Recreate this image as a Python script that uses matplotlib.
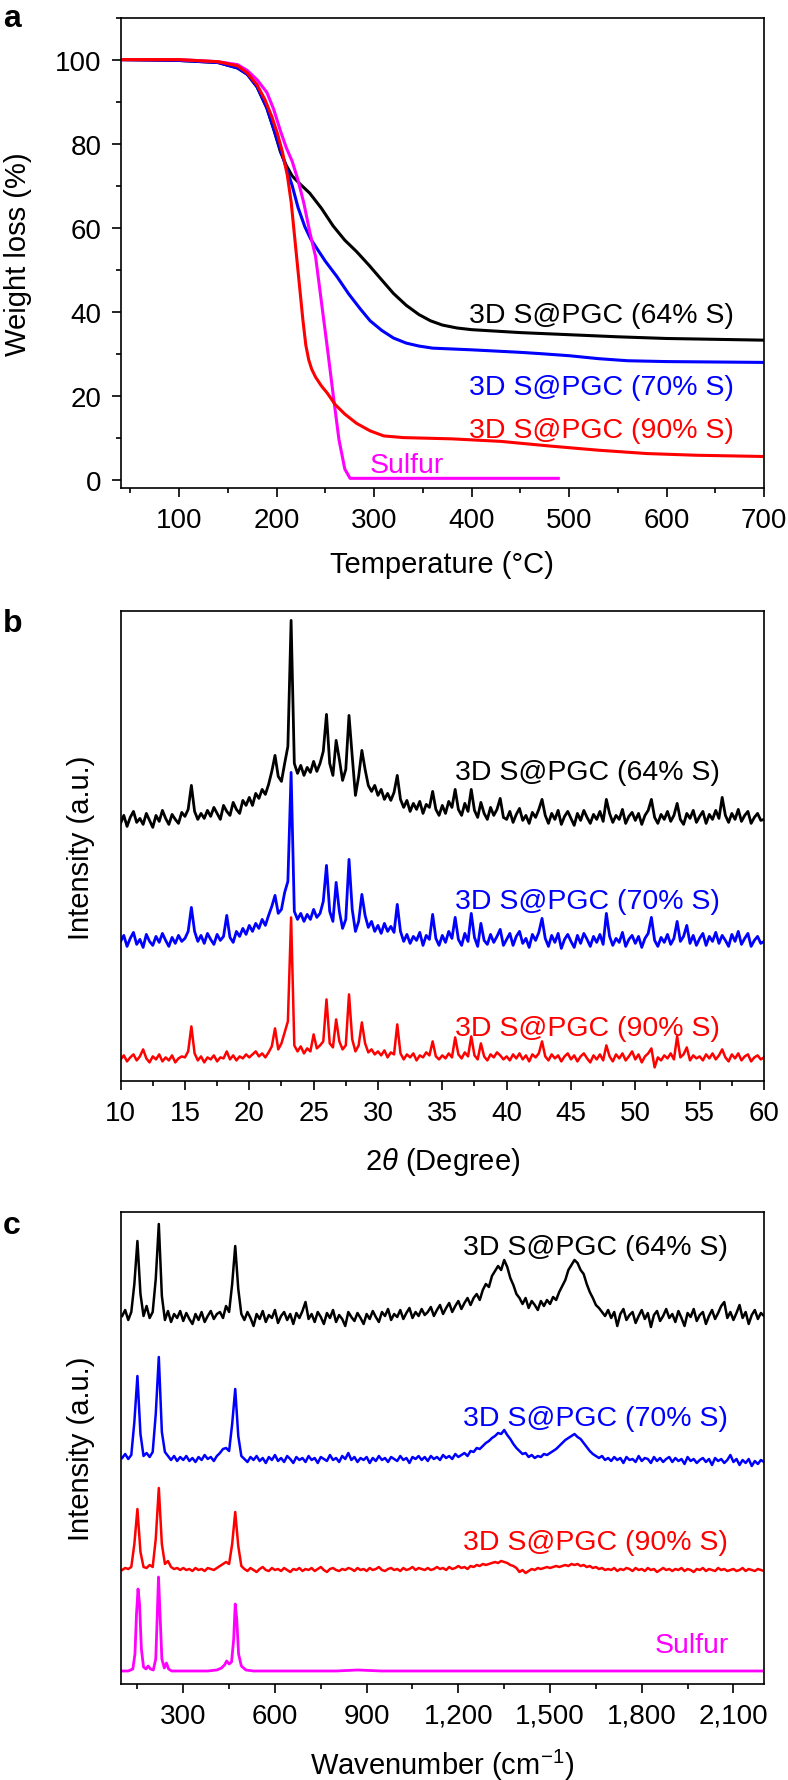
import matplotlib
matplotlib.use('Agg')
import matplotlib.pyplot as plt
from matplotlib.ticker import MultipleLocator, FuncFormatter
import numpy as np

plt.rcParams['font.family'] = ['Liberation Sans', 'DejaVu Sans']
plt.rcParams['mathtext.fontset'] = 'custom'
plt.rcParams['mathtext.rm'] = 'Liberation Sans'
plt.rcParams['mathtext.it'] = 'Liberation Sans:italic'

BLACK, BLUE, RED, MAGENTA = '#000000', '#0000ff', '#ff0000', '#ff00ff'
labels = ['3D S@PGC (64% S)', '3D S@PGC (70% S)', '3D S@PGC (90% S)', 'Sulfur']

# ---- (a) TGA: temperature (C) vs weight (%) ----
tga_t_64 = [40, 100, 140, 160, 170, 180, 190, 197, 204, 210, 216, 224, 234, 246, 258, 270, 282,
            295, 308, 320, 333, 346, 358, 370, 385, 400, 450, 500, 550, 600, 650, 700]
tga_w_64 = [100, 99.8, 99.3, 98, 96.5, 93.5, 88.5, 83.5, 78, 74.8, 72.3, 70.4, 68.2, 64.6, 60.4, 57.0, 54.3,
            51.0, 47.5, 44.3, 41.5, 39.3, 37.8, 36.8, 36.1, 35.7, 35.0, 34.5, 34.0, 33.6, 33.4, 33.2]
tga_t_70 = [40, 100, 140, 160, 170, 180, 190, 197, 204, 210, 216, 222, 229, 235, 242, 250, 262, 274,
            286, 296, 308, 320, 333, 346, 360, 380, 400, 450, 470, 500, 530, 560, 600, 650, 700]
tga_w_70 = [100, 99.8, 99.3, 98, 96.5, 93.5, 88.5, 83.5, 78.5, 74.2, 70, 64.8, 60.2, 57.3, 54.8, 52.0, 48.3, 44.2,
            40.6, 37.8, 35.5, 33.7, 32.5, 31.8, 31.3, 31.1, 30.9, 30.3, 30.0, 29.5, 28.8, 28.3, 28.1, 28.0, 27.9]
tga_t_90 = [40, 100, 140, 160, 170, 180, 188, 195, 201, 206, 211, 215, 218, 221, 224, 227, 230, 233,
            236, 240, 246, 252, 260, 270, 282, 296, 310, 330, 380, 430, 480, 530, 580, 630, 700]
tga_w_90 = [100, 100, 99.5, 98.5, 96.8, 94, 90.5, 86.5, 82.3, 78, 72.5, 66, 59, 52, 45, 38, 32, 28.5,
            26.3, 24.4, 22.3, 20.6, 17.9, 15.6, 13.4, 11.6, 10.4, 10.0, 9.7, 9.1, 8.0, 7.0, 6.2, 5.8, 5.5]
tga_t_s = [40, 100, 140, 160, 170, 180, 190, 197, 204, 210, 216, 222, 228, 234, 240, 246, 252, 258,
           264, 270, 275.4, 280, 300, 400, 489]
tga_w_s = [100, 100, 99.5, 98.8, 97.4, 95.2, 92.2, 88.2, 83.0, 79.0, 75.8, 71.3, 65.8, 59.0, 53.1, 42.3, 31.5, 20.3,
           9.5, 2.5, 0.3, 0.3, 0.3, 0.3, 0.3]

# ---- (b) XRD: 2theta grid, intensities (a.u., offset) ----
xrd_2theta = np.arange(10, 60.001, 0.25)
xrd_64 = [258, 266, 255, 264, 270, 259, 263, 257, 268, 261, 254, 266, 260, 271, 263, 257, 267, 262, 258, 269,
          265, 272, 296, 270, 262, 268, 263, 271, 265, 274, 268, 262, 276, 270, 266, 279, 272, 268, 281, 276,
          284, 276, 288, 283, 292, 287, 297, 310, 326, 305, 300, 318, 335, 461, 318, 308, 316, 306, 314, 309,
          320, 310, 318, 330, 367, 318, 306, 341, 322, 301, 312, 366, 325, 286, 305, 331, 312, 296, 290, 296,
          286, 292, 282, 288, 281, 289, 306, 282, 274, 281, 270, 278, 272, 280, 268, 277, 274, 290, 272, 266,
          276, 268, 280, 274, 292, 272, 266, 278, 270, 292, 271, 264, 279, 268, 262, 274, 266, 272, 283, 264,
          262, 270, 259, 267, 273, 261, 266, 258, 269, 264, 272, 282, 266, 258, 268, 262, 271, 257, 265, 270,
          263, 256, 268, 261, 271, 264, 258, 267, 262, 270, 260, 282, 268, 259, 266, 262, 272, 258, 265, 269,
          261, 268, 257, 266, 271, 282, 264, 258, 267, 262, 270, 260, 266, 278, 262, 257, 268, 263, 271, 259,
          265, 270, 258, 267, 262, 271, 263, 284, 266, 259, 268, 262, 272, 260, 266, 270, 258, 264, 268, 261, 262]
xrd_70 = [140, 146, 135, 143, 149, 137, 142, 134, 147, 140, 136, 145, 139, 148, 141, 135, 144, 138, 146, 140,
          143, 150, 174, 150, 140, 146, 138, 148, 142, 137, 147, 141, 145, 166, 144, 139, 150, 145, 153, 147,
          156, 150, 158, 153, 162, 156, 166, 175, 186, 168, 172, 189, 200, 309, 170, 162, 168, 160, 167, 162,
          172, 164, 168, 180, 216, 170, 160, 199, 170, 153, 162, 222, 172, 150, 160, 187, 166, 154, 160, 150,
          156, 148, 158, 150, 155, 149, 177, 150, 140, 147, 138, 145, 141, 149, 136, 146, 142, 167, 143, 136,
          146, 139, 150, 143, 164, 142, 136, 148, 140, 168, 144, 135, 158, 141, 137, 147, 139, 145, 152, 136,
          142, 148, 136, 145, 150, 138, 143, 134, 147, 141, 149, 163, 143, 135, 146, 139, 148, 133, 142, 147,
          140, 134, 146, 138, 148, 142, 135, 145, 139, 147, 137, 168, 145, 136, 143, 139, 149, 135, 142, 146,
          138, 145, 134, 143, 148, 164, 141, 135, 144, 139, 147, 137, 143, 160, 140, 145, 156, 138, 146, 136,
          143, 148, 136, 145, 140, 149, 138, 146, 141, 135, 147, 140, 150, 137, 143, 148, 135, 141, 145, 138, 140]
xrd_90 = [22, 26, 20, 24, 27, 21, 25, 32, 23, 19, 25, 22, 27, 20, 24, 21, 26, 19, 23, 25,
          24, 30, 55, 28, 21, 25, 19, 24, 22, 26, 20, 24, 23, 30, 22, 26, 21, 25, 23, 27,
          24, 27, 30, 25, 28, 24, 29, 35, 53, 32, 38, 49, 60, 164, 36, 30, 35, 28, 33, 30,
          47, 33, 36, 40, 82, 38, 34, 62, 40, 32, 36, 87, 42, 30, 36, 59, 38, 29, 32, 27,
          30, 26, 31, 24, 29, 27, 57, 28, 22, 27, 24, 28, 21, 26, 24, 29, 26, 40, 25, 22,
          26, 23, 28, 24, 44, 27, 23, 29, 25, 45, 26, 22, 38, 25, 21, 27, 24, 29, 26, 22,
          25, 21, 27, 23, 28, 22, 26, 20, 27, 24, 28, 40, 25, 21, 27, 23, 26, 20, 25, 28,
          22, 26, 20, 25, 28, 23, 19, 26, 22, 27, 21, 36, 25, 20, 27, 23, 28, 21, 25, 30,
          22, 27, 19, 25, 28, 33, 14, 24, 21, 26, 23, 28, 22, 45, 24, 27, 34, 21, 26, 23,
          25, 21, 27, 23, 28, 22, 26, 32, 24, 20, 27, 23, 28, 21, 25, 27, 20, 24, 26, 22, 24]

# ---- (c) Raman: wavenumber grid, intensities (a.u., offset) ----
raman_shift = np.arange(100, 2201, 10)
raman_64 = [368, 374, 364, 372, 400, 443, 390, 368, 378, 366, 372, 405, 460, 388, 364, 373, 362, 370, 366, 373,
            363, 371, 365, 360, 370, 364, 372, 362, 368, 373, 365, 370, 372, 366, 378, 372, 400, 438, 395, 370,
            364, 372, 366, 358, 370, 365, 373, 362, 369, 366, 374, 361, 368, 372, 364, 370, 360, 371, 366, 373,
            382, 365, 370, 362, 372, 367, 360, 371, 366, 374, 362, 369, 365, 358, 372, 367, 363, 371, 366, 360,
            370, 365, 373, 367, 362, 372, 368, 375, 364, 370, 367, 374, 365, 371, 376, 366, 372, 368, 375, 369,
            372, 377, 368, 374, 379, 370, 376, 381, 372, 378, 383, 375, 381, 386, 379, 386, 390, 384, 394, 400,
            397, 408, 413, 418, 414, 424, 417, 406, 399, 390, 386, 380, 386, 376, 383, 379, 374, 383, 378, 384,
            380, 387, 384, 392, 398, 404, 414, 419, 424, 421, 414, 410, 400, 392, 386, 379, 376, 372, 368, 374,
            366, 372, 358, 370, 375, 364, 369, 372, 361, 368, 374, 365, 371, 357, 369, 373, 363, 368, 375, 366,
            370, 362, 373, 366, 358, 371, 367, 375, 363, 369, 372, 360, 368, 374, 365, 371, 378, 382, 366, 372,
            364, 371, 379, 366, 372, 360, 369, 374, 365, 371, 368]
raman_70 = [226, 230, 225, 229, 262, 308, 250, 228, 231, 227, 232, 270, 327, 252, 232, 228, 224, 228, 223, 227,
            224, 228, 223, 226, 222, 227, 224, 229, 225, 227, 223, 228, 231, 235, 236, 233, 260, 295, 248, 228,
            225, 222, 227, 224, 228, 223, 226, 221, 227, 224, 229, 223, 226, 222, 228, 225, 221, 227, 224, 226,
            222, 228, 224, 226, 221, 227, 225, 223, 229, 224, 226, 222, 228, 225, 231, 224, 227, 222, 226, 224,
            227, 221, 226, 223, 228, 224, 226, 222, 227, 225, 223, 228, 224, 226, 221, 227, 225, 228, 224, 227,
            223, 228, 225, 227, 224, 229, 226, 228, 225, 230, 227, 229, 231, 228, 233, 232, 236, 235, 238, 241,
            243, 246, 248, 251, 250, 254, 249, 245, 240, 236, 233, 230, 231, 227, 229, 226, 228, 227, 230, 229,
            231, 233, 235, 238, 241, 244, 246, 248, 250, 247, 245, 241, 237, 233, 230, 228, 226, 228, 224, 226,
            223, 227, 224, 226, 221, 227, 224, 225, 222, 228, 223, 226, 225, 221, 227, 223, 226, 222, 225, 227,
            222, 226, 223, 225, 220, 227, 223, 225, 221, 224, 226, 222, 225, 219, 226, 223, 225, 221, 224, 229,
            222, 225, 219, 224, 221, 225, 218, 223, 220, 224, 222]
raman_90 = [114, 116, 115, 117, 140, 175, 132, 117, 116, 119, 117, 145, 196, 140, 120, 123, 117, 115, 116, 114,
            116, 114, 115, 113, 116, 114, 115, 113, 116, 115, 114, 116, 118, 120, 122, 120, 140, 172, 138, 118,
            115, 113, 116, 114, 112, 115, 117, 114, 113, 116, 114, 115, 113, 116, 114, 112, 115, 114, 116, 113,
            115, 114, 116, 113, 115, 117, 114, 112, 115, 116, 114, 113, 115, 114, 116, 115, 113, 116, 114, 115,
            113, 116, 114, 115, 117, 114, 113, 115, 116, 114, 115, 113, 116, 114, 115, 117, 114, 116, 115, 114,
            116, 114, 115, 117, 115, 116, 114, 117, 115, 116, 118, 116, 117, 115, 118, 117, 119, 118, 120, 119,
            120, 121, 122, 121, 123, 122, 121, 119, 118, 116, 112, 114, 111, 113, 115, 114, 116, 115, 116, 117,
            116, 117, 118, 117, 118, 119, 118, 120, 119, 120, 118, 119, 117, 118, 116, 117, 115, 116, 114, 115,
            114, 116, 113, 115, 114, 116, 115, 113, 116, 114, 115, 113, 116, 114, 115, 112, 114, 116, 114, 115,
            113, 115, 114, 116, 113, 115, 114, 112, 115, 114, 116, 113, 115, 114, 113, 116, 114, 115, 113, 114,
            115, 113, 114, 116, 113, 115, 114, 113, 115, 114, 113]
raman_s_x = [100, 120, 135, 142, 147, 152, 157, 163, 170, 178, 185, 193, 202, 210, 214, 219, 224, 230,
             238, 245, 252, 262, 300, 380, 410, 425, 435, 442, 450, 458, 465, 470, 475, 481, 490, 505,
             530, 700, 800, 870, 950, 1200, 1600, 2200]
raman_s_y = [13, 13, 15, 30, 70, 95, 80, 35, 17, 15, 18, 15, 14, 25, 60, 107, 70, 25,
             16, 21, 15, 13, 13, 13, 14, 16, 19, 23, 20, 22, 45, 80, 65, 30, 18, 14,
             13, 13, 13, 14, 13, 13, 13, 13]

W, H = 788, 1781
fig = plt.figure(figsize=(W / 100, H / 100), dpi=100)


def style(ax):
    for s in ax.spines.values():
        s.set_linewidth(1.2)
    ax.tick_params(which='both', direction='out', top=False, right=False, width=1.2,
                   labelsize=20)
    ax.tick_params(which='major', length=6.5, pad=7)
    ax.tick_params(which='minor', length=3.8)


left, width = 120.6 / W, 643.4 / W

# panel a
ax1 = fig.add_axes([left, 1 - 489 / H, width, 470.4 / H])
ax1.plot(tga_t_64, tga_w_64, color=BLACK, lw=2.2)
ax1.plot(tga_t_70, tga_w_70, color=BLUE, lw=2.2)
ax1.plot(tga_t_s, tga_w_s, color=MAGENTA, lw=2.2)
ax1.plot(tga_t_90, tga_w_90, color=RED, lw=2.2)
ax1.set_xlim(40, 700)
ax1.set_ylim(-2, 110)
ax1.xaxis.set_major_locator(MultipleLocator(100))
ax1.xaxis.set_minor_locator(MultipleLocator(50))
ax1.yaxis.set_major_locator(MultipleLocator(20))
ax1.yaxis.set_minor_locator(MultipleLocator(10))
ax1.set_yticks([0, 20, 40, 60, 80, 100])
style(ax1)
ax1.set_xlabel('Temperature (°C)', fontsize=21, va='baseline')
ax1.xaxis.set_label_coords(0.5, -0.1786)
ax1.set_ylabel('Weight loss (%)', fontsize=21, va='baseline')
ax1.yaxis.set_label_coords(-0.147, 0.5)
ax1.text(669, 37.5, labels[0], color=BLACK, fontsize=20.5, ha='right', va='baseline')
ax1.text(669, 20.4, labels[1], color=BLUE, fontsize=20.5, ha='right', va='baseline')
ax1.text(669, 10.2, labels[2], color=RED, fontsize=20.5, ha='right', va='baseline')
ax1.text(295, 1.7, labels[3], color=MAGENTA, fontsize=20.5, ha='left', va='baseline')

# panel b
ax2 = fig.add_axes([left, 1 - 1082.4 / H, width, 470 / H])
ax2.plot(xrd_2theta, xrd_64, color=BLACK, lw=2.0)
ax2.plot(xrd_2theta, xrd_70, color=BLUE, lw=2.0)
ax2.plot(xrd_2theta, xrd_90, color=RED, lw=1.8)
ax2.set_xlim(10, 60)
ax2.set_ylim(0, 470)
ax2.xaxis.set_major_locator(MultipleLocator(5))
ax2.xaxis.set_minor_locator(MultipleLocator(2.5))
ax2.set_yticks([])
style(ax2)
ax2.set_xlabel(r'2$\it{\theta}$ (Degree)', fontsize=21, va='baseline')
ax2.xaxis.set_label_coords(0.5, -0.1864)
ax2.set_ylabel('Intensity (a.u.)', fontsize=21, va='baseline')
ax2.yaxis.set_label_coords(-0.049, 0.5)
ax2.text(56.6, 302, labels[0], color=BLACK, fontsize=20.5, ha='right', va='baseline')
ax2.text(56.6, 173, labels[1], color=BLUE, fontsize=20.5, ha='right', va='baseline')
ax2.text(56.6, 46, labels[2], color=RED, fontsize=20.5, ha='right', va='baseline')

# panel c
ax3 = fig.add_axes([left, 1 - 1685 / H, width, 472 / H])
ax3.plot(raman_shift, raman_64, color=BLACK, lw=1.8)
ax3.plot(raman_shift, raman_70, color=BLUE, lw=1.8)
ax3.plot(raman_shift, raman_90, color=RED, lw=1.8)
ax3.plot(raman_s_x, raman_s_y, color=MAGENTA, lw=2.0)
ax3.set_xlim(95, 2200)
ax3.set_ylim(0, 472)
ax3.xaxis.set_major_locator(MultipleLocator(300))
ax3.xaxis.set_minor_locator(MultipleLocator(150))
ax3.xaxis.set_major_formatter(FuncFormatter(lambda v, p: f'{int(v):,}'))
ax3.set_yticks([])
style(ax3)
ax3.set_xlabel(r'Wavenumber (cm$^{-1}$)', fontsize=21, va='baseline')
ax3.xaxis.set_label_coords(0.5, -0.1907)
ax3.set_ylabel('Intensity (a.u.)', fontsize=21, va='baseline')
ax3.yaxis.set_label_coords(-0.049, 0.5)
ax3.text(2082, 430, labels[0], color=BLACK, fontsize=20.5, ha='right', va='baseline')
ax3.text(2082, 259, labels[1], color=BLUE, fontsize=20.5, ha='right', va='baseline')
ax3.text(2082, 134.6, labels[2], color=RED, fontsize=20.5, ha='right', va='baseline')
ax3.text(2085, 32, labels[3], color=MAGENTA, fontsize=20.5, ha='right', va='baseline')

# panel letters
for letter, base in [('a', 27), ('b', 631.7), ('c', 1234.5)]:
    fig.text(3 / W, 1 - base / H, letter, fontsize=23, fontweight='bold', ha='left', va='baseline')

fig.savefig('out.png', dpi=100)
